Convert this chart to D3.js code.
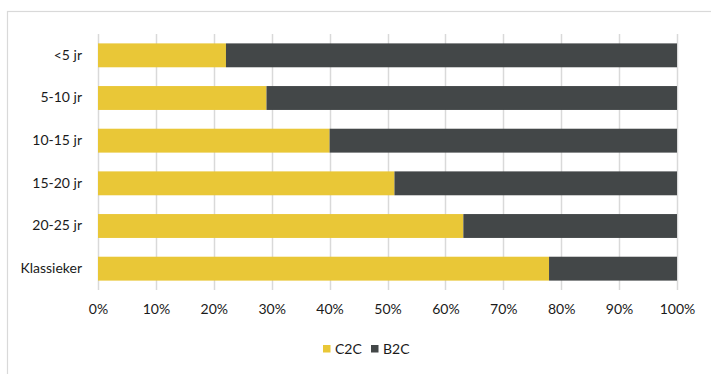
<!DOCTYPE html>
<html>
<head>
<meta charset="utf-8">
<script src="https://cdn.jsdelivr.net/npm/d3@7"></script>
<style>
  html, body { margin: 0; padding: 0; background: #fff; }
  svg { display: block; }
  text { font-family: "Lato", "Liberation Sans", sans-serif; fill: #1a1a1a; }
</style>
</head>
<body>
<svg id="chart" width="711" height="374"></svg>
<script>
const categories = ["<5 jr", "5-10 jr", "10-15 jr", "15-20 jr", "20-25 jr", "Klassieker"];
const seriesNames = ["C2C", "B2C"];
const c2c = [22.1, 29.1, 40.0, 51.2, 63.1, 77.9];
const b2c = [77.9, 70.9, 60.0, 48.8, 36.9, 22.1];
const xTicks = [0, 10, 20, 30, 40, 50, 60, 70, 80, 90, 100];
const colors = ["#E9C737", "#434748"];

const svg = d3.select("#chart");
const W = 711, H = 374;
const m = { left: 98, right: 34, top: 34, bottom: 84 };
const fontSize = "14px";

// outer border
svg.append("rect").attr("x", 7.5).attr("y", 11.5).attr("width", 720).attr("height", 400)
  .attr("fill", "none").attr("stroke", "#d9d9d9").attr("stroke-width", 1.2);

const x = d3.scaleLinear().domain([0, 100]).range([m.left, W - m.right]);
const y = d3.scaleBand().domain(categories).range([m.top, H - m.bottom])
  .paddingInner(0.44).paddingOuter(0.22);

// gridlines
svg.append("g").selectAll("line").data(xTicks).join("line")
  .attr("x1", d => Math.round(x(d)) + 0.5).attr("x2", d => Math.round(x(d)) + 0.5)
  .attr("y1", m.top).attr("y2", H - m.bottom)
  .attr("stroke", "#d9d9d9").attr("stroke-width", 1.5);

const rows = categories.map((c, i) => ({ cat: c, C2C: c2c[i], B2C: b2c[i] }));
const stacked = d3.stack().keys(seriesNames)(rows);

svg.append("g").selectAll("g").data(stacked).join("g")
  .attr("fill", (d, i) => colors[i])
  .selectAll("rect").data(d => d).join("rect")
  .attr("x", d => x(d[0])).attr("width", d => x(d[1]) - x(d[0]))
  .attr("y", d => y(d.data.cat)).attr("height", y.bandwidth());

// x axis labels
const xAxis = d3.axisBottom(x).tickValues(xTicks).tickFormat(d => d + "%").tickSize(0).tickPadding(14);
const gx = svg.append("g").attr("transform", `translate(0,${H - m.bottom})`).call(xAxis);
gx.select(".domain").remove();
gx.selectAll("text").style("font-size", fontSize).style("font-family", "Lato, 'Liberation Sans', sans-serif").attr("fill", "#1a1a1a");

// y axis labels
const yAxis = d3.axisLeft(y).tickSize(0).tickPadding(16);
const gy = svg.append("g").attr("transform", `translate(${m.left},0)`).call(yAxis);
gy.select(".domain").remove();
gy.selectAll("text").style("font-size", fontSize).style("font-family", "Lato, 'Liberation Sans', sans-serif").attr("fill", "#1a1a1a");

// legend
const legendX = [323, 371];
const lg = svg.append("g");
seriesNames.forEach((s, i) => {
  lg.append("rect").attr("x", legendX[i]).attr("y", 345).attr("width", 7.5).attr("height", 7.5).attr("fill", colors[i]);
  lg.append("text").attr("x", legendX[i] + 12).attr("y", 349).attr("dy", "0.35em")
    .style("font-size", fontSize).text(s);
});
</script>
</body>
</html>
